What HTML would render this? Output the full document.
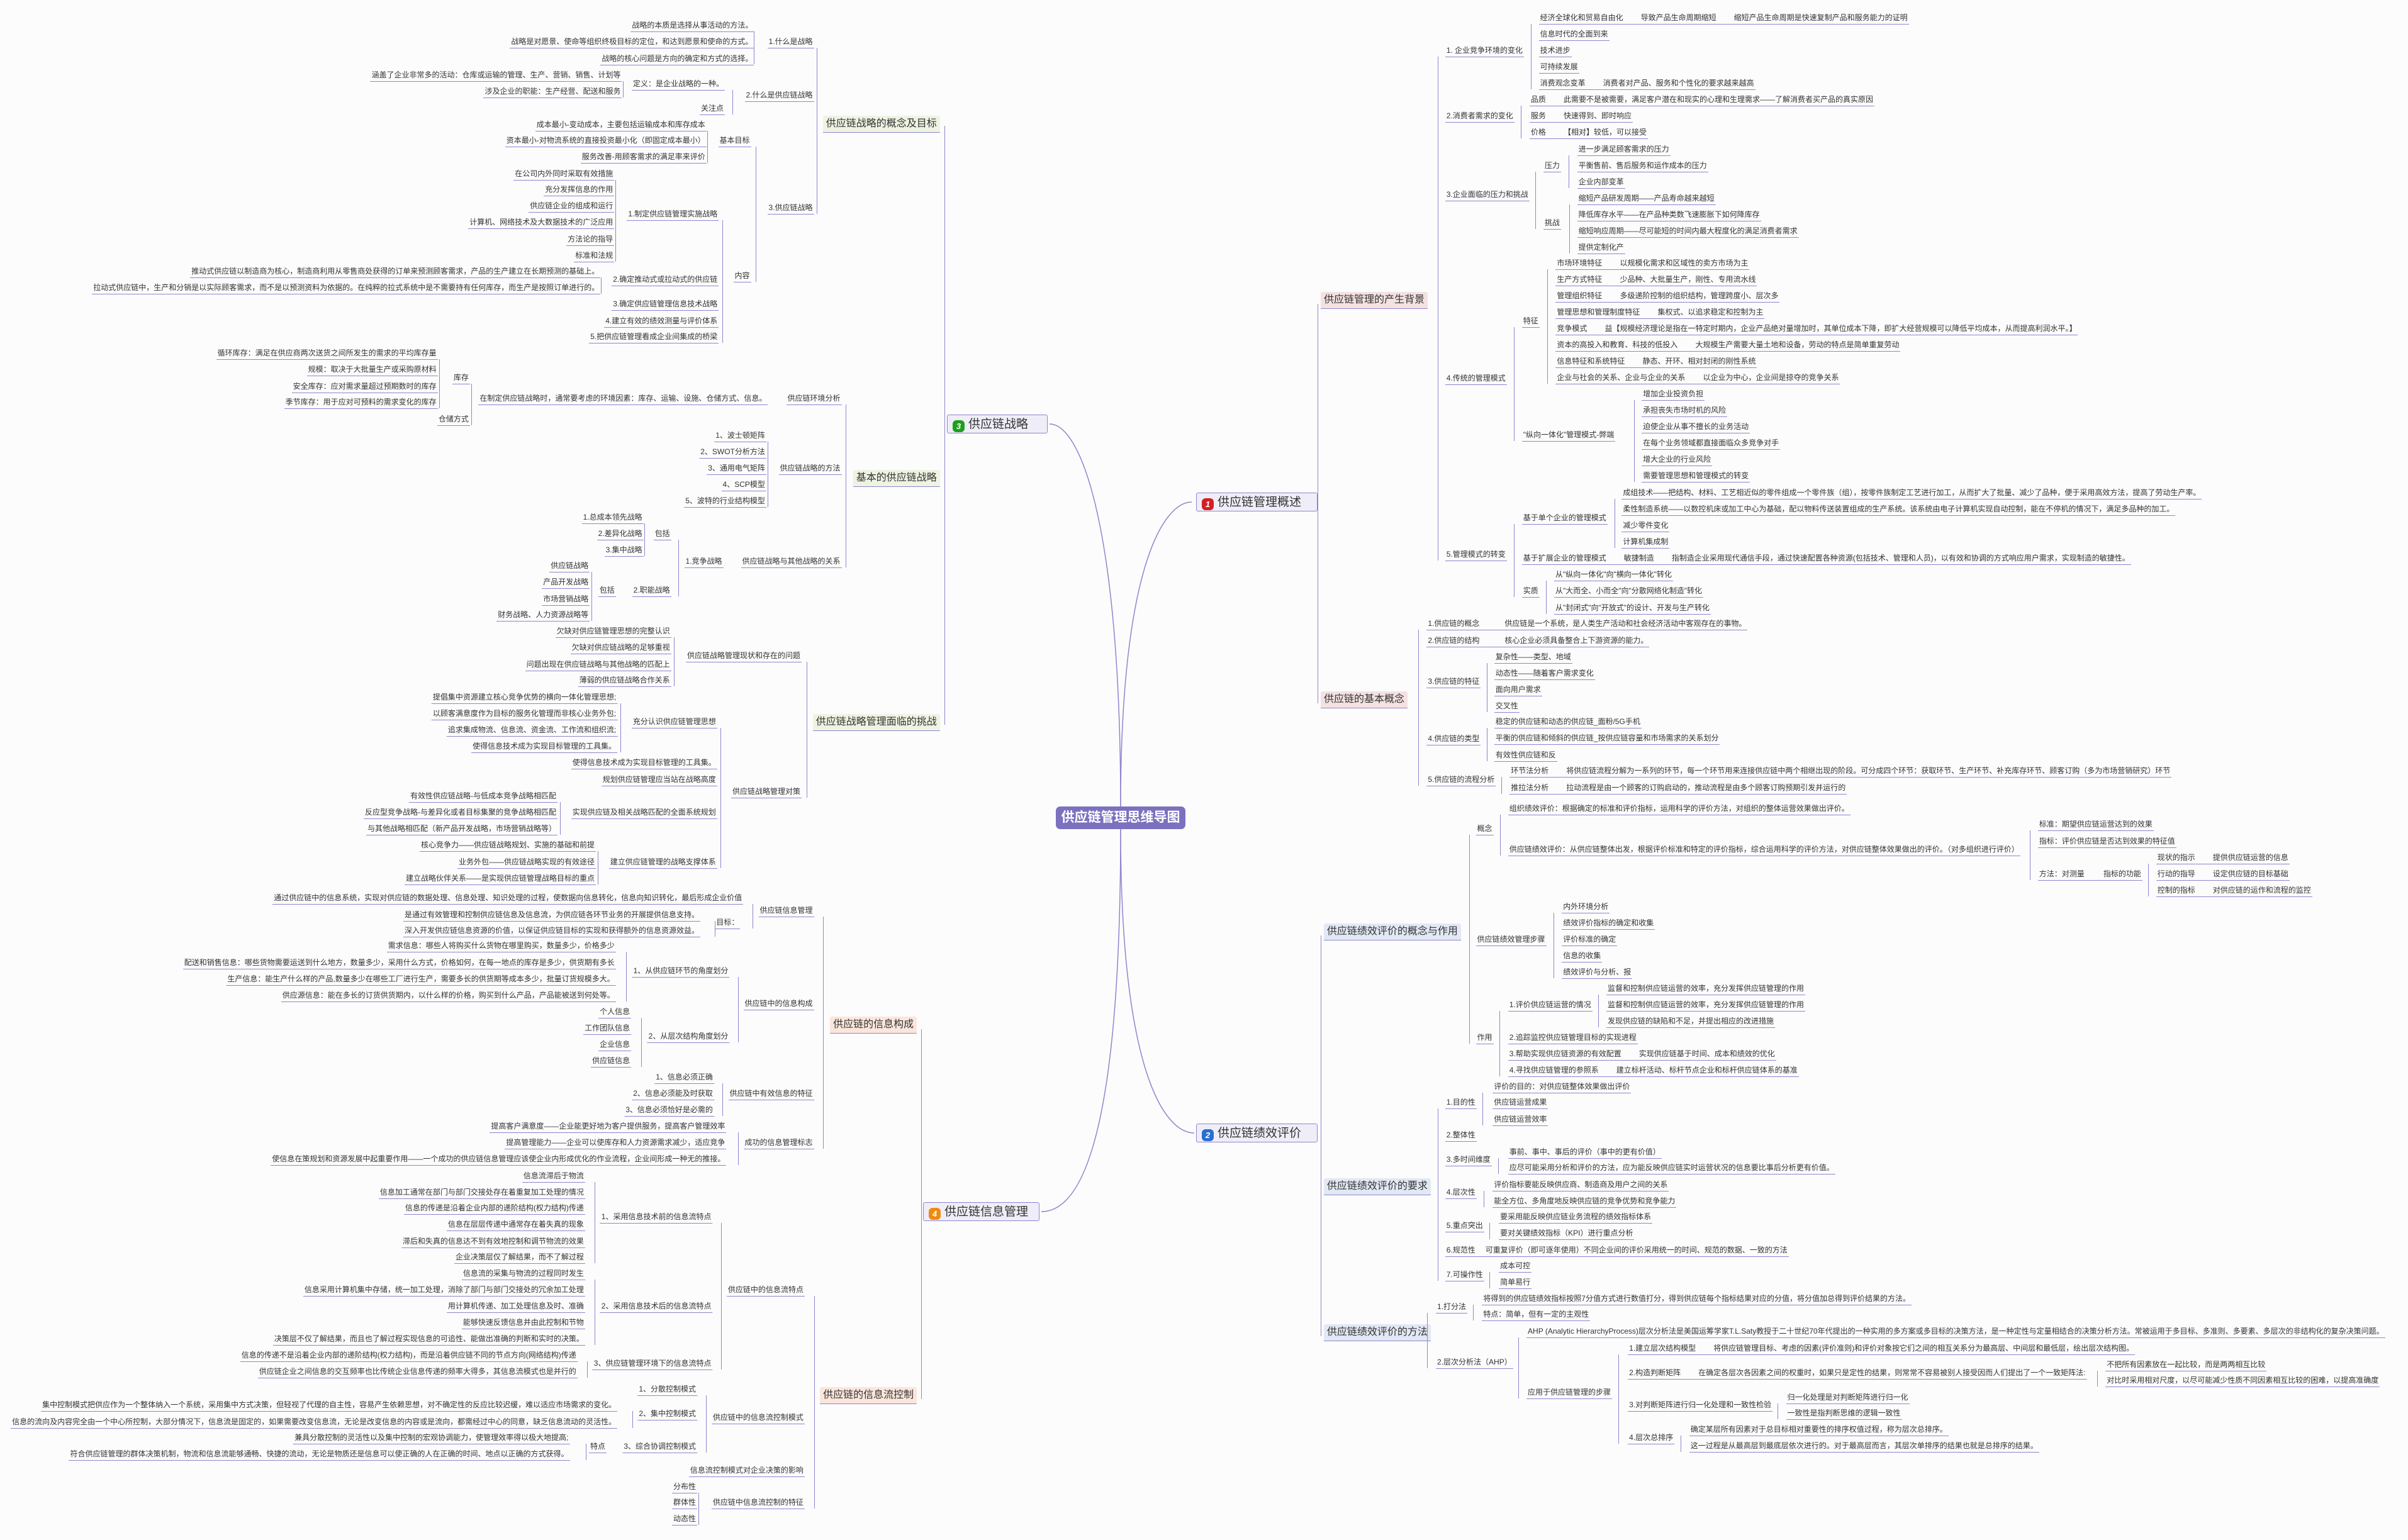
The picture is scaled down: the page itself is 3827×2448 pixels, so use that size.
<!DOCTYPE html>
<html><head><meta charset="utf-8">
<style>
html,body{margin:0;padding:0}
body{width:3827px;height:2448px;position:relative;overflow:hidden;background:#fcfcfc;font-family:"Liberation Sans","Noto Sans CJK SC",sans-serif;color:#333}
:root{--k:2.4407px}
.n{position:absolute;left:calc(var(--x)*var(--k));top:calc(var(--y)*var(--k) - 10px);font-size:12px;line-height:20px;height:20px;padding:0 2px;border-bottom:1px solid #8e86cf;white-space:nowrap;font-style:normal}
.L{transform:translateX(-100%)}
.g{margin-left:28px}
.v{position:absolute;left:calc(var(--x)*var(--k));top:calc(var(--a)*var(--k) + 10px);height:calc((var(--b) - var(--a))*var(--k));border-left:1px solid #8e86cf}
.m{position:absolute;left:calc(var(--x)*var(--k));top:calc(var(--y)*var(--k) - 14px);font-size:16px;line-height:26px;height:26px;padding:0 5px;border-bottom:1px solid #8e86cf;white-space:nowrap;border-radius:3px 3px 0 0}
.pk{background:#f4e1e1}.bl{background:#e2e8f4}.gr{background:#eef3e2}.pc{background:#fbe6dc}
.box{position:absolute;background:#efeef8;border:1px solid #8e86cf;border-radius:3px;font-size:19px;line-height:30px;height:30px;white-space:nowrap;padding:0 8px;box-sizing:border-box}
.ic{display:inline-block;width:19px;height:19px;border-radius:6px;color:#fff;font-size:13px;line-height:19px;text-align:center;font-weight:bold;font-style:italic;vertical-align:-2px;margin-right:6px}
.center{position:absolute;left:1678px;top:1282px;width:206px;height:36px;background:#7b71bf;border-radius:7px;color:#fff;font-weight:bold;font-size:21px;line-height:36px;text-align:center}
</style></head><body>
<svg width="3827" height="2448" style="position:absolute;left:0;top:0" fill="none" stroke="#8e86cf" stroke-width="1.5">
<path d="M1781 1282 C1781 850 1720 674 1668 674"/>
<path d="M1781 1282 C1781 900 1850 798 1894 798"/>
<path d="M1781 1318 C1781 1700 1850 1801 1898 1801"/>
<path d="M1781 1318 C1781 1800 1720 1926 1655 1926"/>
</svg>
<div class="center">供应链管理思维导图</div>
<div class="box" style="left:1901px;top:783px;width:193px"><span class="ic" style="background:#d42020">1</span>供应链管理概述</div>
<div class="box" style="left:1901px;top:1786px;width:193px"><span class="ic" style="background:#2a6fd0">2</span>供应链绩效评价</div>
<div class="box" style="left:1505px;top:659px;width:160px"><span class="ic" style="background:#1ea01e">3</span>供应链战略</div>
<div class="box" style="left:1467px;top:1911px;width:185px"><span class="ic" style="background:#f08a10">4</span>供应链信息管理</div>

<!-- ============ BRANCH 3 (left top) ============ -->
<div class="v" style="--x:615;--a:78;--b:468"></div>
<div class="m gr L" style="--x:612;--y:81">供应链战略的概念及目标</div>
<div class="n L" style="--x:491;--y:16.5">战略的本质是选择从事活动的方法。</div>
<div class="n L" style="--x:491;--y:27.2">战略是对愿景、使命等组织终极目标的定位，和达到愿景和使命的方式。</div>
<div class="n L" style="--x:491;--y:37.9">战略的核心问题是方向的确定和方式的选择。</div>
<div class="v" style="--x:491;--a:16.5;--b:37.9"></div>
<div class="n L" style="--x:530;--y:27.2">1.什么是战略</div>
<div class="n L" style="--x:405;--y:48.9">涵盖了企业非常多的活动：仓库或运输的管理、生产、营销、销售、计划等</div>
<div class="n L" style="--x:405;--y:59.6">涉及企业的职能：生产经营、配送和服务</div>
<div class="v" style="--x:405.7;--a:48.9;--b:59.6"></div>
<div class="n L" style="--x:472;--y:54.4">定义：是企业战略的一种。</div>
<div class="n L" style="--x:472;--y:70.3">关注点</div>
<div class="v" style="--x:477;--a:54.4;--b:70.3"></div>
<div class="n L" style="--x:530;--y:62">2.什么是供应链战略</div>
<div class="v" style="--x:532;--a:27.2;--b:135.4"></div>
<div class="n L" style="--x:460;--y:81">成本最小-变动成本，主要包括运输成本和库存成本</div>
<div class="n L" style="--x:460;--y:91.5">资本最小-对物流系统的直接投资最小化（即固定成本最小）</div>
<div class="n L" style="--x:460;--y:102">服务改善-用顾客需求的满足率来评价</div>
<div class="v" style="--x:460.6;--a:81;--b:102"></div>
<div class="n L" style="--x:489;--y:91.5">基本目标</div>
<div class="n L" style="--x:400;--y:112.9">在公司内外同时采取有效措施</div>
<div class="n L" style="--x:400;--y:123.3">充分发挥信息的作用</div>
<div class="n L" style="--x:400;--y:134">供应链企业的组成和运行</div>
<div class="n L" style="--x:400;--y:144.8">计算机、网络技术及大数据技术的广泛应用</div>
<div class="n L" style="--x:400;--y:155.5">方法论的指导</div>
<div class="n L" style="--x:400;--y:166.2">标准和法规</div>
<div class="v" style="--x:400.6;--a:112.9;--b:166.2"></div>
<div class="n L" style="--x:468;--y:139.5">1.制定供应链管理实施战略</div>
<div class="n L" style="--x:391;--y:176.6">推动式供应链以制造商为核心，制造商利用从零售商处获得的订单来预测顾客需求，产品的生产建立在长期预测的基础上。</div>
<div class="n L" style="--x:391;--y:187.4">拉动式供应链中，生产和分销是以实际顾客需求，而不是以预测资料为依据的。在纯粹的拉式系统中是不需要持有任何库存，而生产是按照订单进行的。</div>
<div class="v" style="--x:391.2;--a:176.6;--b:187.4"></div>
<div class="n L" style="--x:468;--y:182">2.确定推动式或拉动式的供应链</div>
<div class="n L" style="--x:468;--y:198">3.确定供应链管理信息技术战略</div>
<div class="n L" style="--x:468;--y:208.8">4.建立有效的绩效测量与评价体系</div>
<div class="n L" style="--x:468;--y:219.2">5.把供应链管理看成企业间集成的桥梁</div>
<div class="v" style="--x:470.4;--a:139.5;--b:219.2"></div>
<div class="n L" style="--x:489;--y:179.5">内容</div>
<div class="v" style="--x:492;--a:91.5;--b:179.5"></div>
<div class="n L" style="--x:530;--y:135.4">3.供应链战略</div>

<div class="m gr L" style="--x:612;--y:311.7">基本的供应链战略</div>
<div class="n L" style="--x:285;--y:230">循环库存：满足在供应商两次送货之间所发生的需求的平均库存量</div>
<div class="n L" style="--x:285;--y:240.7">规模：取决于大批量生产或采购原材料</div>
<div class="n L" style="--x:285;--y:251.4">安全库存：应对需求量超过预期数时的库存</div>
<div class="n L" style="--x:285;--y:261.8">季节库存：用于应对可预料的需求变化的库存</div>
<div class="v" style="--x:286;--a:230;--b:261.8"></div>
<div class="n L" style="--x:306;--y:246">库存</div>
<div class="n L" style="--x:306;--y:272.8">仓储方式</div>
<div class="v" style="--x:307;--a:246;--b:272.8"></div>
<div class="n L" style="--x:500;--y:259.2">在制定供应链战略时，通常要考虑的环境因素：库存、运输、设施、仓储方式、信息。</div>
<div class="n L" style="--x:548;--y:259.2">供应链环境分析</div>
<div class="n L" style="--x:499;--y:283.5">1、波士顿矩阵</div>
<div class="n L" style="--x:499;--y:294">2、SWOT分析方法</div>
<div class="n L" style="--x:499;--y:304.7">3、通用电气矩阵</div>
<div class="n L" style="--x:499;--y:315.4">4、SCP模型</div>
<div class="n L" style="--x:499;--y:326">5、波特的行业结构模型</div>
<div class="v" style="--x:499.8;--a:283.5;--b:326"></div>
<div class="n L" style="--x:548;--y:304.7">供应链战略的方法</div>
<div class="v" style="--x:550.8;--a:259.2;--b:365.6"></div>
<div class="n L" style="--x:419;--y:336.6">1.总成本领先战略</div>
<div class="n L" style="--x:419;--y:347.3">2.差异化战略</div>
<div class="n L" style="--x:419;--y:358">3.集中战略</div>
<div class="v" style="--x:419.5;--a:336.6;--b:358"></div>
<div class="n L" style="--x:437;--y:347.3">包括</div>
<div class="n L" style="--x:384;--y:368.4">供应链战略</div>
<div class="n L" style="--x:384;--y:379">产品开发战略</div>
<div class="n L" style="--x:384;--y:389.9">市场营销战略</div>
<div class="n L" style="--x:384;--y:400.3">财务战略、人力资源战略等</div>
<div class="v" style="--x:385;--a:368.4;--b:400.3"></div>
<div class="n L" style="--x:401;--y:384.4">包括</div>
<div class="n L" style="--x:437;--y:384.4">2.职能战略</div>
<div class="v" style="--x:441.8;--a:347.3;--b:384.4"></div>
<div class="n L" style="--x:471;--y:365.6">1.竞争战略</div>
<div class="n L" style="--x:548;--y:365.6">供应链战略与其他战略的关系</div>

<div class="m gr L" style="--x:612;--y:470.8">供应链战略管理面临的挑战</div>
<div class="n L" style="--x:437;--y:411">欠缺对供应链管理思想的完整认识</div>
<div class="n L" style="--x:437;--y:421.8">欠缺对供应链战略的足够重视</div>
<div class="n L" style="--x:437;--y:432.5">问题出现在供应链战略与其他战略的匹配上</div>
<div class="n L" style="--x:437;--y:443">薄弱的供应链战略合作关系</div>
<div class="v" style="--x:439;--a:411;--b:443"></div>
<div class="n L" style="--x:522;--y:427">供应链战略管理现状和存在的问题</div>
<div class="n L" style="--x:402;--y:453.8">提倡集中资源建立核心竞争优势的横向一体化管理思想;</div>
<div class="n L" style="--x:402;--y:464.6">以顾客满意度作为目标的服务化管理而非核心业务外包;</div>
<div class="n L" style="--x:402;--y:475.2">追求集成物流、信息流、资金流、工作流和组织流;</div>
<div class="n L" style="--x:402;--y:485.8">使得信息技术成为实现目标管理的工具集。</div>
<div class="v" style="--x:403.8;--a:453.8;--b:485.8"></div>
<div class="n L" style="--x:467;--y:470">充分认识供应链管理思想</div>
<div class="n L" style="--x:467;--y:496.6">使得信息技术成为实现目标管理的工具集。</div>
<div class="n L" style="--x:467;--y:507.6">规划供应链管理应当站在战略高度</div>
<div class="n L" style="--x:363;--y:518.4">有效性供应链战略-与低成本竞争战略相匹配</div>
<div class="n L" style="--x:363;--y:529">反应型竞争战略-与差异化或者目标集聚的竞争战略相匹配</div>
<div class="n L" style="--x:363;--y:539.6">与其他战略相匹配（新产品开发战略，市场营销战略等）</div>
<div class="v" style="--x:364.6;--a:518.4;--b:539.6"></div>
<div class="n L" style="--x:467;--y:529">实现供应链及相关战略匹配的全面系统规划</div>
<div class="n L" style="--x:388;--y:550.4">核心竞争力——供应链战略规划、实施的基础和前提</div>
<div class="n L" style="--x:388;--y:561.4">业务外包——供应链战略实现的有效途径</div>
<div class="n L" style="--x:388;--y:571.8">建立战略伙伴关系——是实现供应链管理战略目标的重点</div>
<div class="v" style="--x:389.3;--a:550.4;--b:571.8"></div>
<div class="n L" style="--x:467;--y:561.4">建立供应链管理的战略支撑体系</div>
<div class="v" style="--x:469.2;--a:470;--b:561.4"></div>
<div class="n L" style="--x:522;--y:515.6">供应链战略管理对策</div>
<div class="v" style="--x:525.3;--a:427;--b:515.6"></div>

<!-- ============ BRANCH 4 (left bottom) ============ -->
<div class="v" style="--x:600;--a:666;--b:907"></div>
<div class="m pc L" style="--x:597;--y:668">供应链的信息构成</div>
<div class="n L" style="--x:484;--y:584.8">通过供应链中的信息系统，实现对供应链的数据处理、信息处理、知识处理的过程，使数据向信息转化，信息向知识转化，最后形成企业价值</div>
<div class="n L" style="--x:456;--y:595.6">是通过有效管理和控制供应链信息及信息流，为供应链各环节业务的开展提供信息支持。</div>
<div class="n L" style="--x:456;--y:606">深入开发供应链信息资源的价值，以保证供应链目标的实现和获得额外的信息资源效益。</div>
<div class="v" style="--x:465.3;--a:595.6;--b:606"></div>
<div class="n L" style="--x:482;--y:600.8">目标：</div>
<div class="v" style="--x:490;--a:584.8;--b:600.8"></div>
<div class="n L" style="--x:530;--y:592.7">供应链信息管理</div>
<div class="n L" style="--x:401;--y:616">需求信息：哪些人将购买什么货物在哪里购买，数量多少，价格多少</div>
<div class="n L" style="--x:401;--y:627">配送和销售信息：哪些货物需要运送到什么地方，数量多少，采用什么方式，价格如何，在每一地点的库存是多少，供货期有多长</div>
<div class="n L" style="--x:401;--y:637.6">生产信息：能生产什么样的产品,数量多少在哪些工厂进行生产，需要多长的供货期等成本多少，批量订货规模多大。</div>
<div class="n L" style="--x:401;--y:648">供应源信息：能在多长的订货供货期内，以什么样的价格，购买到什么产品，产品能被送到何处等。</div>
<div class="v" style="--x:407.7;--a:616;--b:648"></div>
<div class="n L" style="--x:475;--y:632.4">1、从供应链环节的角度划分</div>
<div class="n L" style="--x:411;--y:658.8">个人信息</div>
<div class="n L" style="--x:411;--y:669.5">工作团队信息</div>
<div class="n L" style="--x:411;--y:680">企业信息</div>
<div class="n L" style="--x:411;--y:690.9">供应链信息</div>
<div class="v" style="--x:417.5;--a:658.8;--b:690.9"></div>
<div class="n L" style="--x:475;--y:675">2、从层次结构角度划分</div>
<div class="v" style="--x:480.6;--a:632.4;--b:675"></div>
<div class="n L" style="--x:530;--y:653.5">供应链中的信息构成</div>
<div class="n L" style="--x:465;--y:701.6">1、信息必须正确</div>
<div class="n L" style="--x:465;--y:712">2、信息必须能及时获取</div>
<div class="n L" style="--x:465;--y:722.8">3、信息必须恰好是必需的</div>
<div class="v" style="--x:470.4;--a:701.6;--b:722.8"></div>
<div class="n L" style="--x:530;--y:712">供应链中有效信息的特征</div>
<div class="n L" style="--x:473;--y:733.5">提高客户满意度——企业能更好地为客户提供服务，提高客户管理效率</div>
<div class="n L" style="--x:473;--y:744">提高管理能力——企业可以使库存和人力资源需求减少，适应竞争</div>
<div class="n L" style="--x:473;--y:754.7">使信息在策规划和资源发展中起重要作用——一个成功的供应链信息管理应该使企业内形成优化的作业流程，企业间形成一种无的推接。</div>
<div class="v" style="--x:480.6;--a:733.5;--b:754.7"></div>
<div class="n L" style="--x:530;--y:744">成功的信息管理标志</div>
<div class="v" style="--x:535.9;--a:592.7;--b:744"></div>

<div class="m pc L" style="--x:597;--y:909">供应链的信息流控制</div>
<div class="n L" style="--x:381;--y:765.7">信息流滞后于物流</div>
<div class="n L" style="--x:381;--y:776.4">信息加工通常在部门与部门交接处存在着重复加工处理的情况</div>
<div class="n L" style="--x:381;--y:786.8">信息的传递是沿着企业内部的递阶结构(权力结构)传递</div>
<div class="n L" style="--x:381;--y:797.5">信息在层层传递中通常存在着失真的现象</div>
<div class="n L" style="--x:381;--y:808.3">滞后和失真的信息达不到有效地控制和调节物流的效果</div>
<div class="n L" style="--x:381;--y:818.7">企业决策层仅了解结果，而不了解过程</div>
<div class="v" style="--x:387.3;--a:765.7;--b:818.7"></div>
<div class="n L" style="--x:464;--y:792.3">1、采用信息技术前的信息流特点</div>
<div class="n L" style="--x:381;--y:829.4">信息流的采集与物流的过程同时发生</div>
<div class="n L" style="--x:381;--y:840.1">信息采用计算机集中存储，统一加工处理，消除了部门与部门交接处的冗余加工处理</div>
<div class="n L" style="--x:381;--y:850.6">用计算机传递、加工处理信息及时、准确</div>
<div class="n L" style="--x:381;--y:861.3">能够快速反馈信息并由此控制和节物</div>
<div class="n L" style="--x:381;--y:872">决策层不仅了解结果，而且也了解过程实现信息的可追性、能做出准确的判断和实时的决策。</div>
<div class="v" style="--x:387.3;--a:829.4;--b:872"></div>
<div class="n L" style="--x:464;--y:850.6">2、采用信息技术后的信息流特点</div>
<div class="n L" style="--x:376;--y:882.7">信息的传递不是沿着企业内部的递阶结构(权力结构)，而是沿着供应链不同的节点方向(网络结构)传递</div>
<div class="n L" style="--x:376;--y:893.2">供应链企业之间信息的交互频率也比传统企业信息传递的频率大得多，其信息流模式也是并行的</div>
<div class="v" style="--x:382.2;--a:882.7;--b:893.2"></div>
<div class="n L" style="--x:464;--y:888">3、供应链管理环境下的信息流特点</div>
<div class="v" style="--x:469.6;--a:792.3;--b:888"></div>
<div class="n L" style="--x:524;--y:840">供应链中的信息流特点</div>
<div class="n L" style="--x:454;--y:904.7">1、分散控制模式</div>
<div class="n L" style="--x:402;--y:915">集中控制模式把供应作为一个整体纳入一个系统，采用集中方式决策，但轻视了代理的自主性，容易产生依赖思想，对不确定性的反应比较迟缓，难以适应市场需求的变化。</div>
<div class="n L" style="--x:402;--y:925.8">信息的流向及内容完全由一个中心所控制，大部分情况下，信息流是固定的，如果需要改变信息流，无论是改变信息的内容或是流向，都需经过中心的同意，缺乏信息流动的灵活性。</div>
<div class="v" style="--x:411.6;--a:915;--b:925.8"></div>
<div class="n L" style="--x:454;--y:920.6">2、集中控制模式</div>
<div class="n L" style="--x:371;--y:936.3">兼具分散控制的灵活性以及集中控制的宏观协调能力，使管理效率得以极大地提高;</div>
<div class="n L" style="--x:371;--y:947">符合供应链管理的群体决策机制，物流和信息流能够通畅、快捷的流动，无论是物质还是信息可以使正确的人在正确的时间、地点以正确的方式获得。</div>
<div class="v" style="--x:381.4;--a:936.3;--b:947"></div>
<div class="n L" style="--x:395;--y:941.8">特点</div>
<div class="n L" style="--x:454;--y:941.8">3、综合协调控制模式</div>
<div class="v" style="--x:459.8;--a:904.7;--b:941.8"></div>
<div class="n L" style="--x:524;--y:923">供应链中的信息流控制模式</div>
<div class="n L" style="--x:524;--y:957.5">信息流控制模式对企业决策的影响</div>
<div class="n L" style="--x:454;--y:968">分布性</div>
<div class="n L" style="--x:454;--y:978.6">群体性</div>
<div class="n L" style="--x:454;--y:989.2">动态性</div>
<div class="v" style="--x:454.7;--a:968;--b:989.2"></div>
<div class="n L" style="--x:524;--y:978.6">供应链中信息流控制的特征</div>
<div class="v" style="--x:530;--a:840;--b:978.6"></div>

<!-- ============ BRANCH 1 (right top) ============ -->
<div class="v" style="--x:858;--a:194;--b:454"></div>
<div class="m pk" style="--x:860;--y:196">供应链管理的产生背景</div>
<div class="m pk" style="--x:860;--y:456">供应链的基本概念</div>
<div class="v" style="--x:936.3;--a:32.9;--b:360.9"></div>
<div class="n" style="--x:941;--y:32.9">1. 企业竞争环境的变化</div>
<div class="n" style="--x:941;--y:75.5">2.消费者需求的变化</div>
<div class="n" style="--x:941;--y:126.5">3.企业面临的压力和挑战</div>
<div class="n" style="--x:941;--y:246.1">4.传统的管理模式</div>
<div class="n" style="--x:941;--y:360.9">5.管理模式的转变</div>
<div class="v" style="--x:997;--a:11.5;--b:54.1"></div>
<div class="n" style="--x:1002;--y:11.5">经济全球化和贸易自由化<span class="g">导致产品生命周期缩短</span><span class="g">缩短产品生命周期是快速复制产品和服务能力的证明</span></div>
<div class="n" style="--x:1002;--y:22.2">信息时代的全面到来</div>
<div class="n" style="--x:1002;--y:32.9">技术进步</div>
<div class="n" style="--x:1002;--y:43.6">可持续发展</div>
<div class="n" style="--x:1002;--y:54.1">消费观念变革<span class="g">消费者对产品、服务和个性化的要求越来越高</span></div>
<div class="v" style="--x:990.3;--a:64.8;--b:86.2"></div>
<div class="n" style="--x:996;--y:64.8">品质<span class="g">此需要不是被需要，满足客户潜在和现实的心理和生理需求——了解消费者买产品的真实原因</span></div>
<div class="n" style="--x:996;--y:75.5">服务<span class="g">快速得到、即时响应</span></div>
<div class="n" style="--x:996;--y:86.2">价格<span class="g">【相对】较低，可以接受</span></div>
<div class="v" style="--x:999.8;--a:107.9;--b:145"></div>
<div class="n" style="--x:1005;--y:107.9">压力</div>
<div class="n" style="--x:1005;--y:145">挑战</div>
<div class="v" style="--x:1021.6;--a:97.2;--b:118.6"></div>
<div class="n" style="--x:1027;--y:97.2">进一步满足顾客需求的压力</div>
<div class="n" style="--x:1027;--y:107.9">平衡售前、售后服务和运作成本的压力</div>
<div class="n" style="--x:1027;--y:118.6">企业内部变革</div>
<div class="v" style="--x:1022;--a:129;--b:161"></div>
<div class="n" style="--x:1027;--y:129">缩短产品研发周期——产品寿命越来越短</div>
<div class="n" style="--x:1027;--y:139.8">降低库存水平——在产品种类数飞速膨胀下如何降库存</div>
<div class="n" style="--x:1027;--y:150.5">缩短响应周期——尽可能短的时间内最大程度化的满足消费者需求</div>
<div class="n" style="--x:1027;--y:161">提供定制化产</div>
<div class="v" style="--x:985.8;--a:208.8;--b:283.3"></div>
<div class="n" style="--x:991;--y:208.8">特征</div>
<div class="n" style="--x:991;--y:283.3">"纵向一体化"管理模式-弊端</div>
<div class="v" style="--x:1007.6;--a:171.4;--b:245.9"></div>
<div class="n" style="--x:1013;--y:171.4">市场环境特征<span class="g">以规模化需求和区域性的卖方市场为主</span></div>
<div class="n" style="--x:1013;--y:182.1">生产方式特征<span class="g">少品种、大批量生产，刚性、专用流水线</span></div>
<div class="n" style="--x:1013;--y:192.6">管理组织特征<span class="g">多级递阶控制的组织结构，管理跨度小、层次多</span></div>
<div class="n" style="--x:1013;--y:203.3">管理思想和管理制度特征<span class="g">集权式、以追求稳定和控制为主</span></div>
<div class="n" style="--x:1013;--y:214">竞争模式<span class="g">益【规模经济理论是指在一特定时期内，企业产品绝对量增加时，其单位成本下降，即扩大经营规模可以降低平均成本，从而提高利润水平。】</span></div>
<div class="n" style="--x:1013;--y:224.7">资本的高投入和教育、科技的低投入<span class="g">大规模生产需要大量土地和设备，劳动的特点是简单重复劳动</span></div>
<div class="n" style="--x:1013;--y:235.2">信息特征和系统特征<span class="g">静态、开环、相对封闭的刚性系统</span></div>
<div class="n" style="--x:1013;--y:245.9">企业与社会的关系、企业与企业的关系<span class="g">以企业为中心，企业间是掠夺的竞争关系</span></div>
<div class="v" style="--x:1064;--a:256.6;--b:309.9"></div>
<div class="n" style="--x:1069;--y:256.6">增加企业投资负担</div>
<div class="n" style="--x:1069;--y:267.3">承担丧失市场时机的风险</div>
<div class="n" style="--x:1069;--y:277.8">迫使企业从事不擅长的业务活动</div>
<div class="n" style="--x:1069;--y:288.5">在每个业务领域都直接面临众多竞争对手</div>
<div class="n" style="--x:1069;--y:299.2">增大企业的行业风险</div>
<div class="n" style="--x:1069;--y:309.9">需要管理思想和管理模式的转变</div>
<div class="v" style="--x:985.8;--a:337;--b:384.9"></div>
<div class="n" style="--x:991;--y:337">基于单个企业的管理模式</div>
<div class="n" style="--x:991;--y:363.5">基于扩展企业的管理模式<span class="g">敏捷制造</span><span class="g">指制造企业采用现代通信手段，通过快速配置各种资源(包括技术、管理和人员)，以有效和协调的方式响应用户需求，实现制造的敏捷性。</span></div>
<div class="n" style="--x:991;--y:384.9">实质</div>
<div class="v" style="--x:1051.3;--a:320.9;--b:352.8"></div>
<div class="n" style="--x:1056;--y:320.9">成组技术——把结构、材料、工艺相近似的零件组成一个零件族（组），按零件族制定工艺进行加工，从而扩大了批量、减少了品种，便于采用高效方法，提高了劳动生产率。</div>
<div class="n" style="--x:1056;--y:331.6">柔性制造系统——以数控机床或加工中心为基础，配以物料传送装置组成的生产系统。该系统由电子计算机实现自动控制，能在不停机的情况下，满足多品种的加工。</div>
<div class="n" style="--x:1056;--y:342.3">减少零件变化</div>
<div class="n" style="--x:1056;--y:352.8">计算机集成制</div>
<div class="v" style="--x:1006.8;--a:374.2;--b:395.6"></div>
<div class="n" style="--x:1012;--y:374.2">从"纵向一体化"向"横向一体化"转化</div>
<div class="n" style="--x:1012;--y:384.9">从"大而全、小而全"向"分散网络化制造"转化</div>
<div class="n" style="--x:1012;--y:395.6">从"封闭式"向"开放式"的设计、开发与生产转化</div>

<div class="v" style="--x:923.5;--a:406;--b:507.5"></div>
<div class="n" style="--x:929;--y:406">1.供应链的概念<span style="margin-left:40px">供应链是一个系统，是人类生产活动和社会经济活动中客观存在的事物。</span></div>
<div class="n" style="--x:929;--y:417">2.供应链的结构<span style="margin-left:40px">核心企业必须具备整合上下游资源的能力。</span></div>
<div class="n" style="--x:929;--y:443.8">3.供应链的特征</div>
<div class="v" style="--x:968;--a:427.8;--b:459.7"></div>
<div class="n" style="--x:973;--y:427.8">复杂性——类型、地域</div>
<div class="n" style="--x:973;--y:438.3">动态性——随着客户需求变化</div>
<div class="n" style="--x:973;--y:449">面向用户需求</div>
<div class="n" style="--x:973;--y:459.7">交叉性</div>
<div class="n" style="--x:929;--y:481">4.供应链的类型</div>
<div class="v" style="--x:968;--a:470.1;--b:491.5"></div>
<div class="n" style="--x:973;--y:470.1">稳定的供应链和动态的供应链_面粉/5G手机</div>
<div class="n" style="--x:973;--y:480.8">平衡的供应链和倾斜的供应链_按供应链容量和市场需求的关系划分</div>
<div class="n" style="--x:973;--y:491.5">有效性供应链和反</div>
<div class="n" style="--x:929;--y:507.5">5.供应链的流程分析</div>
<div class="v" style="--x:977.5;--a:502;--b:512.8"></div>
<div class="n" style="--x:983;--y:502">环节法分析<span class="g">将供应链流程分解为一系列的环节，每一个环节用来连接供应链中两个相继出现的阶段。可分成四个环节：获取环节、生产环节、补充库存环节、顾客订购（多为市场营销研究）环节</span></div>
<div class="n" style="--x:983;--y:512.8">推拉法分析<span class="g">拉动流程是由一个顾客的订购启动的，推动流程是由多个顾客订购预期引发并运行的</span></div>

<!-- ============ BRANCH 2 (right bottom) ============ -->
<div class="v" style="--x:860;--a:605;--b:866"></div>
<div class="m bl" style="--x:862;--y:607">供应链绩效评价的概念与作用</div>
<div class="m bl" style="--x:862;--y:773">供应链绩效评价的要求</div>
<div class="m bl" style="--x:862;--y:868">供应链绩效评价的方法</div>
<div class="v" style="--x:956.5;--a:539.5;--b:675.5"></div>
<div class="n" style="--x:961;--y:539.5">概念</div>
<div class="n" style="--x:961;--y:611.8">供应链绩效管理步骤</div>
<div class="n" style="--x:961;--y:675.5">作用</div>
<div class="v" style="--x:976.7;--a:526.5;--b:553.1"></div>
<div class="n" style="--x:982;--y:526.5">组织绩效评价：根据确定的标准和评价指标，运用科学的评价方法，对组织的整体运营效果做出评价。</div>
<div class="n" style="--x:982;--y:553.1">供应链绩效评价：从供应链整体出发，根据评价标准和特定的评价指标，综合运用科学的评价方法，对供应链整体效果做出的评价。（对多组织进行评价）</div>
<div class="v" style="--x:1321.6;--a:536.9;--b:569"></div>
<div class="n" style="--x:1327;--y:536.9">标准：期望供应链运营达到的效果</div>
<div class="n" style="--x:1327;--y:547.6">指标：评价供应链是否达到效果的特征值</div>
<div class="n" style="--x:1327;--y:569">方法：对测量<span style="margin-left:30px">指标的功能</span></div>
<div class="v" style="--x:1398.7;--a:558.3;--b:579.8"></div>
<div class="n" style="--x:1404;--y:558.3">现状的指示<span class="g">提供供应链运营的信息</span></div>
<div class="n" style="--x:1404;--y:569">行动的指导<span class="g">设定供应链的目标基础</span></div>
<div class="n" style="--x:1404;--y:579.8">控制的指标<span class="g">对供应链的运作和流程的监控</span></div>
<div class="v" style="--x:1011.7;--a:590.3;--b:633"></div>
<div class="n" style="--x:1017;--y:590.3">内外环境分析</div>
<div class="n" style="--x:1017;--y:601">绩效评价指标的确定和收集</div>
<div class="n" style="--x:1017;--y:611.8">评价标准的确定</div>
<div class="n" style="--x:1017;--y:622.3">信息的收集</div>
<div class="n" style="--x:1017;--y:633">绩效评价与分析、报</div>
<div class="v" style="--x:976.3;--a:654.3;--b:696.8"></div>
<div class="n" style="--x:982;--y:654.3">1.评价供应链运营的情况</div>
<div class="n" style="--x:982;--y:675.5">2.追踪监控供应链管理目标的实现进程</div>
<div class="n" style="--x:982;--y:686.3">3.帮助实现供应链资源的有效配置<span class="g">实现供应链基于时间、成本和绩效的优化</span></div>
<div class="n" style="--x:982;--y:696.8">4.寻找供应链管理的参照系<span class="g">建立标杆活动、标杆节点企业和标杆供应链体系的基准</span></div>
<div class="v" style="--x:1040.6;--a:643.6;--b:665"></div>
<div class="n" style="--x:1046;--y:643.6">监督和控制供应链运营的效率，充分发挥供应链管理的作用</div>
<div class="n" style="--x:1046;--y:654.3">监督和控制供应链运营的效率，充分发挥供应链管理的作用</div>
<div class="n" style="--x:1046;--y:665">发现供应链的缺陷和不足，并提出相应的改进措施</div>

<div class="v" style="--x:936.3;--a:718;--b:829.9"></div>
<div class="n" style="--x:972;--y:707.4">评价的目的：对供应链整体效果做出评价</div>
<div class="n" style="--x:941;--y:718">1.目的性</div>
<div class="n" style="--x:941;--y:739.3">2.整体性</div>
<div class="n" style="--x:941;--y:755.3">3.多时间维度</div>
<div class="n" style="--x:941;--y:776.6">4.层次性</div>
<div class="n" style="--x:941;--y:798">5.重点突出</div>
<div class="n" style="--x:941;--y:814">6.规范性<span style="margin-left:16px">可重复评价（即可逐年使用）不同企业间的评价采用统一的时间、规范的数据、一致的方法</span></div>
<div class="n" style="--x:941;--y:829.9">7.可操作性</div>
<div class="v" style="--x:965.2;--a:707.4;--b:728.7"></div>
<div class="n" style="--x:972;--y:718">供应链运营成果</div>
<div class="n" style="--x:972;--y:728.7">供应链运营效率</div>
<div class="v" style="--x:975.5;--a:750;--b:760.6"></div>
<div class="n" style="--x:982;--y:750">事前、事中、事后的评价（事中的更有价值）</div>
<div class="n" style="--x:982;--y:760.6">应尽可能采用分析和评价的方法，应为能反映供应链实时运营状况的信息要比事后分析更有价值。</div>
<div class="v" style="--x:966;--a:771.3;--b:782"></div>
<div class="n" style="--x:972;--y:771.3">评价指标要能反映供应商、制造商及用户之间的关系</div>
<div class="n" style="--x:972;--y:782">能全方位、多角度地反映供应链的竞争优势和竞争能力</div>
<div class="v" style="--x:970;--a:792.6;--b:803.2"></div>
<div class="n" style="--x:976;--y:792.6">要采用能反映供应链业务流程的绩效指标体系</div>
<div class="n" style="--x:976;--y:803.2">要对关键绩效指标（KPI）进行重点分析</div>
<div class="v" style="--x:970;--a:824.5;--b:835.2"></div>
<div class="n" style="--x:976;--y:824.5">成本可控</div>
<div class="n" style="--x:976;--y:835.2">简单易行</div>

<div class="v" style="--x:929.3;--a:850.8;--b:887"></div>
<div class="n" style="--x:935;--y:850.8">1.打分法</div>
<div class="n" style="--x:935;--y:887">2.层次分析法（AHP）</div>
<div class="v" style="--x:959;--a:845.5;--b:856.1"></div>
<div class="n" style="--x:965;--y:845.5">将得到的供应链绩效指标按照7分值方式进行数值打分，得到供应链每个指标结果对应的分值，将分值加总得到评价结果的方法。</div>
<div class="n" style="--x:965;--y:856.1">特点：简单，但有一定的主观性</div>
<div class="v" style="--x:988.7;--a:866.8;--b:906.9"></div>
<div class="n" style="--x:994;--y:866.8">AHP (Analytic HierarchyProcess)层次分析法是美国运筹学家T.L.Saty教授于二十世纪70年代提出的一种实用的多方案或多目标的决策方法，是一种定性与定量相结合的决策分析方法。常被运用于多目标、多准则、多要素、多层次的非结构化的复杂决策问题。</div>
<div class="n" style="--x:994;--y:906.9">应用于供应链管理的步骤</div>
<div class="v" style="--x:1053.8;--a:878;--b:936.4"></div>
<div class="n" style="--x:1060;--y:878">1.建立层次结构模型<span class="g">将供应链管理目标、考虑的因素(评价准则)和评价对象按它们之间的相互关系分为最高层、中间层和最低层，绘出层次结构图。</span></div>
<div class="n" style="--x:1060;--y:894">2.构造判断矩阵<span class="g">在确定各层次各因素之间的权重时，如果只是定性的结果，则常常不容易被别人接受因而人们提出了一个一致矩阵法:</span></div>
<div class="n" style="--x:1060;--y:915.1">3.对判断矩阵进行归一化处理和一致性检验</div>
<div class="n" style="--x:1060;--y:936.4">4.层次总排序</div>
<div class="v" style="--x:1365.7;--a:888.5;--b:899.1"></div>
<div class="n" style="--x:1371;--y:888.5">不把所有因素放在一起比较，而是两两相互比较</div>
<div class="n" style="--x:1371;--y:899.1">对比时采用相对尺度，以尽可能减少性质不同因素相互比较的困难，以提高准确度</div>
<div class="v" style="--x:1157.6;--a:909.8;--b:920.4"></div>
<div class="n" style="--x:1163;--y:909.8">归一化处理是对判断矩阵进行归一化</div>
<div class="n" style="--x:1163;--y:920.4">一致性是指判断思维的逻辑一致性</div>
<div class="v" style="--x:1094.2;--a:931;--b:941.7"></div>
<div class="n" style="--x:1100;--y:931">确定某层所有因素对于总目标相对重要性的排序权值过程，称为层次总排序。</div>
<div class="n" style="--x:1100;--y:941.7">这一过程是从最高层到最底层依次进行的。对于最高层而言，其层次单排序的结果也就是总排序的结果。</div>
</body></html>
